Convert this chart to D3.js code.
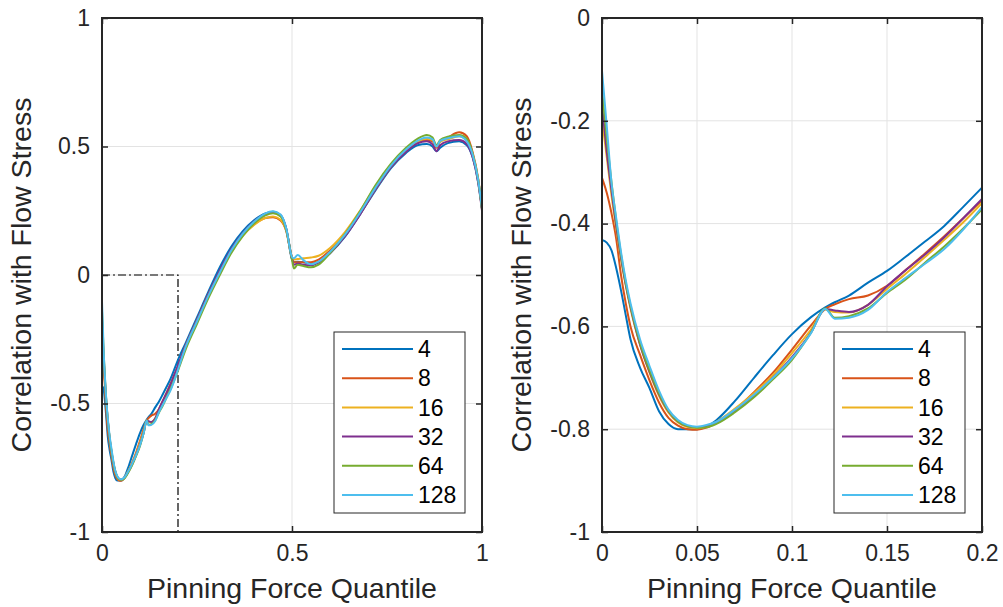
<!DOCTYPE html>
<html>
<head>
<meta charset="utf-8">
<script src="https://cdn.jsdelivr.net/npm/d3@7"></script>
<style>
  html, body { margin: 0; padding: 0; background: #fff; }
  svg { display: block; font-family: "Liberation Sans", Arial, Helvetica, sans-serif; }
</style>
</head>
<body>
<svg id="chart" width="1003" height="607"></svg>
<script>
// Pinning force quantile sample positions (shared by every series)
const quantile = [0, 0.0025, 0.005, 0.0075, 0.01, 0.0125, 0.015, 0.02, 0.025, 0.03, 0.035, 0.04, 0.045, 0.05, 0.055, 0.06, 0.07, 0.08, 0.09, 0.1, 0.11, 0.1175, 0.1225, 0.13, 0.14, 0.15, 0.16, 0.17, 0.18, 0.19, 0.2,
  0.22, 0.25, 0.28, 0.31, 0.34, 0.37, 0.4, 0.43, 0.45, 0.47, 0.485, 0.5, 0.505, 0.515, 0.53, 0.55, 0.57, 0.6, 0.64, 0.68, 0.72, 0.76, 0.8, 0.83, 0.855, 0.87, 0.88, 0.89, 0.91, 0.94, 0.96, 0.975, 0.99, 1.0];

// Correlation with flow stress, one array per bin count
const corr4 = [-0.432, -0.437, -0.452, -0.487, -0.53, -0.578, -0.625, -0.68, -0.72, -0.765, -0.79, -0.8, -0.8, -0.8, -0.795, -0.783, -0.745, -0.7, -0.656, -0.615, -0.582, -0.563, -0.553, -0.54, -0.515, -0.492, -0.464, -0.435, -0.405, -0.368, -0.33,
  -0.265, -0.165, -0.065, 0.03, 0.11, 0.17, 0.213, 0.24, 0.246, 0.232, 0.18, 0.06, 0.05, 0.052, 0.05, 0.044, 0.05, 0.085, 0.15, 0.238, 0.33, 0.415, 0.475, 0.505, 0.51, 0.5, 0.482, 0.495, 0.513, 0.52, 0.505, 0.46, 0.36, 0.26];
const corr8 = [-0.311, -0.34, -0.38, -0.43, -0.5, -0.555, -0.6, -0.655, -0.705, -0.748, -0.778, -0.793, -0.8, -0.801, -0.797, -0.788, -0.762, -0.728, -0.69, -0.645, -0.598, -0.566, -0.557, -0.547, -0.54, -0.521, -0.49, -0.458, -0.425, -0.39, -0.355,
  -0.275, -0.175, -0.075, 0.015, 0.095, 0.155, 0.197, 0.222, 0.225, 0.212, 0.17, 0.065, 0.05, 0.05, 0.05, 0.05, 0.06, 0.095, 0.155, 0.24, 0.335, 0.42, 0.482, 0.515, 0.525, 0.52, 0.495, 0.52, 0.535, 0.555, 0.54, 0.48, 0.375, 0.26];
const corr16 = [-0.197, -0.27, -0.345, -0.41, -0.47, -0.52, -0.565, -0.635, -0.69, -0.735, -0.768, -0.787, -0.796, -0.798, -0.795, -0.786, -0.76, -0.73, -0.695, -0.652, -0.606, -0.567, -0.572, -0.573, -0.558, -0.527, -0.497, -0.465, -0.432, -0.398, -0.36,
  -0.28, -0.18, -0.08, 0.01, 0.092, 0.152, 0.195, 0.222, 0.228, 0.215, 0.172, 0.07, 0.06, 0.062, 0.065, 0.068, 0.075, 0.105, 0.168, 0.252, 0.345, 0.425, 0.485, 0.518, 0.53, 0.525, 0.5, 0.518, 0.528, 0.54, 0.525, 0.47, 0.37, 0.26];
const corr32 = [-0.17, -0.26, -0.335, -0.405, -0.465, -0.518, -0.562, -0.635, -0.688, -0.732, -0.765, -0.785, -0.794, -0.796, -0.794, -0.787, -0.764, -0.735, -0.7, -0.66, -0.612, -0.566, -0.569, -0.572, -0.558, -0.522, -0.49, -0.46, -0.427, -0.39, -0.352,
  -0.275, -0.175, -0.075, 0.018, 0.1, 0.162, 0.208, 0.238, 0.245, 0.232, 0.178, 0.065, 0.04, 0.045, 0.04, 0.038, 0.048, 0.085, 0.152, 0.238, 0.335, 0.42, 0.48, 0.512, 0.52, 0.508, 0.482, 0.505, 0.52, 0.525, 0.51, 0.46, 0.36, 0.25];
const corr64 = [-0.14, -0.235, -0.32, -0.395, -0.46, -0.515, -0.56, -0.632, -0.685, -0.73, -0.764, -0.785, -0.794, -0.797, -0.796, -0.79, -0.767, -0.738, -0.703, -0.665, -0.612, -0.565, -0.583, -0.58, -0.565, -0.535, -0.508, -0.476, -0.445, -0.41, -0.372,
  -0.29, -0.19, -0.09, 0.0, 0.085, 0.15, 0.2, 0.232, 0.24, 0.228, 0.175, 0.06, 0.025, 0.04, 0.035, 0.03, 0.04, 0.085, 0.16, 0.25, 0.35, 0.432, 0.495, 0.53, 0.545, 0.535, 0.505, 0.525, 0.538, 0.545, 0.53, 0.475, 0.37, 0.255];
const corr128 = [-0.103, -0.21, -0.32, -0.39, -0.455, -0.51, -0.555, -0.625, -0.677, -0.725, -0.762, -0.782, -0.792, -0.795, -0.792, -0.786, -0.762, -0.733, -0.7, -0.662, -0.613, -0.566, -0.585, -0.583, -0.568, -0.533, -0.505, -0.478, -0.45, -0.412, -0.368,
  -0.28, -0.18, -0.08, 0.01, 0.095, 0.16, 0.207, 0.24, 0.248, 0.235, 0.18, 0.07, 0.065, 0.078, 0.058, 0.042, 0.052, 0.09, 0.158, 0.245, 0.34, 0.425, 0.488, 0.522, 0.535, 0.528, 0.5, 0.522, 0.532, 0.54, 0.52, 0.47, 0.37, 0.26];

const seriesNames = ["4", "8", "16", "32", "64", "128"];
const seriesValues = [corr4, corr8, corr16, corr32, corr64, corr128];
const seriesColors = ["#0072BD", "#D95319", "#EDB120", "#7E2F8E", "#77AC30", "#4DBEEE"];

// Tick values for each panel
const leftXTicks = [0, 0.5, 1];
const leftYTicks = [-1, -0.5, 0, 0.5, 1];
const rightXTicks = [0, 0.05, 0.1, 0.15, 0.2];
const rightYTicks = [-1, -0.8, -0.6, -0.4, -0.2, 0];

// Highlighted region in the full view (quantile 0..0.2, correlation -1..0)
const zoomBox = { x0: 0, x1: 0.2, y0: -1, y1: 0 };

const xLabel = "Pinning Force Quantile";
const yLabel = "Correlation with Flow Stress";

const svg = d3.select("#chart");
const ink = "#262626";
const gridColor = "#e3e3e3";

const series = seriesNames.map((name, i) => ({
  name,
  color: seriesColors[i],
  points: quantile.map((q, j) => ({ x: q, y: seriesValues[i][j] }))
}));

function drawPanel(opts) {
  const { left, right, top, bottom, xDomain, yDomain, xTicks, yTicks, showBox, id } = opts;
  const x = d3.scaleLinear().domain(xDomain).range([left, right]);
  const y = d3.scaleLinear().domain(yDomain).range([bottom, top]);
  const g = svg.append("g");
  const fmt = d => String(d);

  // clip region for data lines
  svg.append("clipPath").attr("id", id)
    .append("rect").attr("x", left).attr("y", top)
    .attr("width", right - left).attr("height", bottom - top);

  // grid
  const grid = g.append("g");
  grid.selectAll(".gx").data(xTicks).join("line")
    .attr("x1", d => x(d)).attr("x2", d => x(d))
    .attr("y1", top).attr("y2", bottom)
    .attr("stroke", gridColor).attr("stroke-width", 1);
  grid.selectAll(".gy").data(yTicks).join("line")
    .attr("y1", d => y(d)).attr("y2", d => y(d))
    .attr("x1", left).attr("x2", right)
    .attr("stroke", gridColor).attr("stroke-width", 1);

  if (showBox) {
    g.append("rect")
      .attr("x", x(zoomBox.x0)).attr("y", y(zoomBox.y1))
      .attr("width", x(zoomBox.x1) - x(zoomBox.x0))
      .attr("height", y(zoomBox.y0) - y(zoomBox.y1))
      .attr("fill", "none").attr("stroke", "#000")
      .attr("stroke-width", 1.2)
      .attr("stroke-dasharray", "8,3,2,3");
  }

  // data lines
  const line = d3.line().x(d => x(d.x)).y(d => y(d.y)).curve(d3.curveMonotoneX);
  const lines = g.append("g").attr("clip-path", `url(#${id})`);
  series.forEach(s => {
    const pts = s.points.filter(p => p.x >= xDomain[0] - 1e-9 && p.x <= xDomain[1] + 1e-9);
    lines.append("path").datum(pts)
      .attr("d", line)
      .attr("fill", "none")
      .attr("stroke", s.color)
      .attr("stroke-width", 2)
      .attr("stroke-linejoin", "round");
  });

  // axes with inward ticks on all four sides
  const tickLen = 6;
  const styleAxis = sel => {
    sel.select(".domain").remove();
    sel.selectAll(".tick line").attr("stroke", ink).attr("stroke-width", 1.5);
    sel.selectAll(".tick text").attr("fill", ink).style("font-size", "23px")
      .style("font-family", '"Liberation Sans", Arial, sans-serif');
  };
  g.append("g").attr("transform", `translate(0,${bottom})`)
    .call(d3.axisBottom(x).tickValues(xTicks).tickFormat(fmt).tickSize(-tickLen).tickPadding(13))
    .call(styleAxis);
  g.append("g").attr("transform", `translate(0,${top})`)
    .call(d3.axisTop(x).tickValues(xTicks).tickFormat("").tickSize(-tickLen))
    .call(styleAxis);
  g.append("g").attr("transform", `translate(${left},0)`)
    .call(d3.axisLeft(y).tickValues(yTicks).tickFormat(fmt).tickSize(-tickLen).tickPadding(12))
    .call(styleAxis);
  g.append("g").attr("transform", `translate(${right},0)`)
    .call(d3.axisRight(y).tickValues(yTicks).tickFormat("").tickSize(-tickLen))
    .call(styleAxis);

  g.append("rect")
    .attr("x", left).attr("y", top)
    .attr("width", right - left).attr("height", bottom - top)
    .attr("fill", "none").attr("stroke", ink).attr("stroke-width", 2);

  // axis titles
  g.append("text")
    .attr("x", (left + right) / 2).attr("y", 598)
    .attr("text-anchor", "middle").attr("fill", ink)
    .style("font-size", "28.5px").text(xLabel);
  g.append("text")
    .attr("transform", `translate(${left - 71},${(top + bottom) / 2}) rotate(-90)`)
    .attr("text-anchor", "middle").attr("fill", ink)
    .style("font-size", "28.5px").text(yLabel);

  // legend
  const lgX = right - 148, lgY = 332, lgW = 131, lgH = 181;
  const lg = g.append("g");
  lg.append("rect").attr("x", lgX).attr("y", lgY).attr("width", lgW).attr("height", lgH)
    .attr("fill", "#fff").attr("stroke", ink).attr("stroke-width", 1);
  series.forEach((s, i) => {
    const cy = lgY + 17 + i * 29.2;
    lg.append("line").attr("x1", lgX + 8).attr("x2", lgX + 79)
      .attr("y1", cy).attr("y2", cy)
      .attr("stroke", s.color).attr("stroke-width", 2);
    lg.append("text").attr("x", lgX + 84).attr("y", cy).attr("dy", "0.36em")
      .attr("fill", "#000").style("font-size", "23px").text(s.name);
  });
}

drawPanel({ id: "clipFull", left: 102, right: 482, top: 18, bottom: 532,
  xDomain: [0, 1], yDomain: [-1, 1], xTicks: leftXTicks, yTicks: leftYTicks, showBox: true });
drawPanel({ id: "clipZoom", left: 602, right: 982, top: 18, bottom: 532,
  xDomain: [0, 0.2], yDomain: [-1, 0], xTicks: rightXTicks, yTicks: rightYTicks, showBox: false });
</script>
</body>
</html>
